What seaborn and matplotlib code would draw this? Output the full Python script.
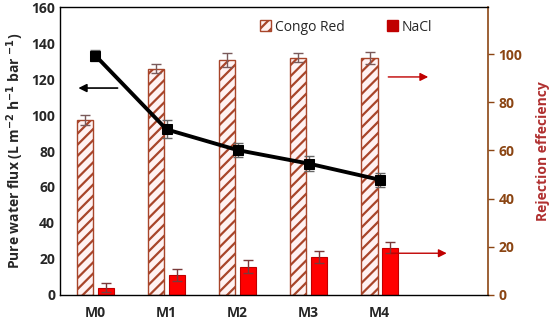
import numpy as np
import pandas as pd
import matplotlib
matplotlib.use("Agg")
import matplotlib.pyplot as plt
import seaborn as sns
from matplotlib.patches import Patch

# data
membranes = ["M0", "M1", "M2", "M3", "M4"]
flux = [133, 92, 80.5, 73, 64]
flux_err = [3, 5, 4, 4, 4]
congo_red = [72.5, 94, 97.5, 98.5, 98.5]
congo_err = [2, 2, 3, 2, 2.5]
nacl = [3, 8.3, 11.7, 15.7, 19.5]
nacl_err = [1.8, 2.5, 2.8, 2.5, 2.3]

sns.set_style("white")
plt.rcParams["font.family"] = ["Open Sans", "DejaVu Sans"]
plt.rcParams["hatch.color"] = "#A8452A"
plt.rcParams["hatch.linewidth"] = 1.6

brown = "#8B4513"
red_dark = "#C00000"
hatch_edge = "#A8452A"

fig = plt.figure(figsize=(5.5, 3.23), dpi=100)
ax = fig.add_axes([0.109, 0.087, 0.778, 0.891])
ax2 = ax.twinx()

# rejection bars on the right axis
df = pd.DataFrame({
    "Membrane": membranes * 2,
    "Rejection": congo_red + nacl,
    "Solute": ["Congo Red"] * 5 + ["NaCl"] * 5,
})
sns.barplot(data=df, x="Membrane", y="Rejection", hue="Solute", ax=ax2,
            width=0.58, gap=0.22, errorbar=None, legend=False,
            palette=["white", "#FF0000"], saturation=1)

cr_bars = ax2.patches[:5]
na_bars = ax2.patches[5:10]
for b in cr_bars:
    b.set_facecolor("#FFF2F2")
    b.set_edgecolor(hatch_edge)
    b.set_hatch("///")
    b.set_linewidth(1.0)
for b in na_bars:
    b.set_edgecolor(red_dark)
    b.set_linewidth(0.8)

cr_x = [b.get_x() + b.get_width() / 2 for b in cr_bars]
na_x = [b.get_x() + b.get_width() / 2 for b in na_bars]
ax2.errorbar(cr_x, congo_red, yerr=congo_err, fmt="none", ecolor="#7A5A5A",
             elinewidth=1, capsize=3.5)
ax2.errorbar(na_x, nacl, yerr=nacl_err, fmt="none", ecolor="#7A3A3A",
             elinewidth=1, capsize=3.5)

# flux line on the left axis
xs = np.arange(len(membranes))
ax.errorbar(xs, flux, yerr=flux_err, fmt="none", ecolor="#666666",
            elinewidth=1, capsize=3.5, zorder=3)
sns.lineplot(x=xs, y=flux, ax=ax, color="black", lw=2.8, marker="s",
             markersize=7, markeredgecolor="black", zorder=4)

ax.set_zorder(ax2.get_zorder() + 1)
ax.patch.set_visible(False)

ax.set_xlim(-0.5, 5.52)
ax2.set_xlim(-0.5, 5.52)
ax.set_ylim(0, 160)
ax2.set_ylim(0, 119.5)
ax.set_yticks(range(0, 161, 20))
ax2.set_yticks(range(0, 101, 20))
ax.set_xticks(xs)
ax.set_xticklabels(membranes, fontsize=10, fontweight="bold")
ax.tick_params(axis="y", labelsize=10, length=0)
ax.tick_params(axis="x", length=0, pad=8)
ax2.tick_params(axis="y", labelsize=10, colors=brown, direction="out",
                length=4, width=1)
for t in ax.get_yticklabels() + ax2.get_yticklabels():
    t.set_fontweight("bold")
ax2.set_xlabel("")
ax.set_xlabel("")

ax.set_ylabel("Pure water flux (L m$^{\\mathbf{-2}}$ h$^{\\mathbf{-1}}$ bar $^{\\mathbf{-1}}$)",
              fontsize=10, fontweight="bold")
ax2.set_ylabel("Rejection effeciency", fontsize=10, fontweight="bold",
               color="#B03030", labelpad=10)

for side in ["top", "left", "bottom"]:
    ax2.spines[side].set_visible(False)
ax2.spines["right"].set_color(brown)
ax2.spines["right"].set_linewidth(1.2)
for s in ax.spines.values():
    s.set_color("black")
    s.set_linewidth(1)
ax.spines["right"].set_visible(False)

# arrows pointing to each axis
ax.annotate("", xy=(-0.28, 115), xytext=(0.35, 115),
            arrowprops=dict(arrowstyle="-|>", color="black", lw=1.2,
                            mutation_scale=12))
ax2.annotate("", xy=(4.72, 90.5), xytext=(4.08, 90.5),
             arrowprops=dict(arrowstyle="-|>", color=red_dark, lw=1,
                             mutation_scale=12))
ax2.annotate("", xy=(4.98, 17.3), xytext=(4.12, 17.3),
             arrowprops=dict(arrowstyle="-|>", color=red_dark, lw=1,
                             mutation_scale=12))

handles = [Patch(facecolor="#FFF2F2", edgecolor=hatch_edge, hatch="///",
                 label="Congo Red"),
           Patch(facecolor=red_dark, edgecolor=red_dark, label="NaCl")]
ax.legend(handles=handles, loc="upper right", bbox_to_anchor=(0.9, 1.0),
          ncol=2, frameon=False, fontsize=10, prop={"weight": "normal"},
          handlelength=0.8, handleheight=0.8, columnspacing=3.0,
          handletextpad=0.3)

fig.savefig("out.png", dpi=100)
